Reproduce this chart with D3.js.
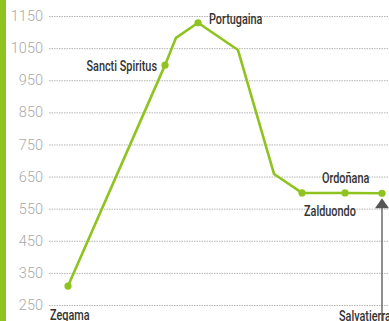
<!DOCTYPE html>
<html>
<head>
<meta charset="utf-8">
<script src="https://cdn.jsdelivr.net/npm/d3@7/dist/d3.min.js"></script>
<style>
  html, body { margin: 0; padding: 0; background: #fff; }
  svg { display: block; }
</style>
</head>
<body>
<svg id="chart" width="389" height="321"></svg>
<script>
// Route profile: distance (km) and altitude (m)
const distances = [0, 9.7, 10.8, 13.0, 17.0, 20.6, 23.4, 27.7, 31.4];
const altitudes = [309, 997, 1082, 1129, 1044, 658, 599, 599, 598];
// Named stops along the route (index into the arrays above)
const stopNames = ["Zegama", "Sancti Spiritus", "Portugaina", "Zalduondo", "Ordoñana", "Salvatierra"];
const stopIndex = [0, 1, 3, 6, 7, 8];
const yTicks = [250, 350, 450, 550, 650, 750, 850, 950, 1050, 1150];

const green = "#8fc31f";
const svg = d3.select("#chart");

const x = d3.scaleLinear().domain([0, 31.4]).range([68, 382]);
const y = d3.scaleLinear().domain([250, 1150]).range([305, 16]);

// left accent bar
svg.append("rect").attr("x", 0).attr("y", 0).attr("width", 6).attr("height", 321).attr("fill", green);

// gridlines + tick labels
const yAxis = d3.axisLeft(y).tickValues(yTicks).tickFormat(d3.format("d"))
  .tickSize(-340).tickPadding(6);
const gAxis = svg.append("g").attr("transform", "translate(49,0)").call(yAxis);
gAxis.select(".domain").remove();
gAxis.selectAll(".tick line")
  .attr("stroke", "#b5b5b5").attr("stroke-width", 1).attr("stroke-dasharray", "1.5,1");
gAxis.selectAll(".tick text")
  .attr("fill", "#aaa").attr("font-family", "Roboto").attr("font-weight", 300)
  .attr("font-size", 14.5).attr("x", -6);

// profile line
const line = d3.line().x((d, i) => x(distances[i])).y(d => y(d));
svg.append("path").datum(altitudes)
  .attr("d", line).attr("fill", "none").attr("stroke", green)
  .attr("stroke-width", 2.6).attr("stroke-linejoin", "round");

// stop markers
svg.selectAll("circle.stop").data(stopIndex).enter().append("circle")
  .attr("class", "stop")
  .attr("cx", i => x(distances[i])).attr("cy", i => y(altitudes[i]))
  .attr("r", 3.6).attr("fill", green);

// destination arrow
const last = stopIndex[stopIndex.length - 1];
const ax = x(distances[last]);
const ay = y(altitudes[last]) + 5;
svg.append("line").attr("x1", ax).attr("x2", ax).attr("y1", ay + 8).attr("y2", 321)
  .attr("stroke", "#555").attr("stroke-width", 1.3);
svg.append("path")
  .attr("d", `M${ax},${ay} L${ax + 7},${ay + 10} L${ax - 7},${ay + 10} Z`)
  .attr("fill", "#555");

// stop labels: [dx, dy, anchor]
const labelPos = [
  [-18, 34, "start"],  // Zegama (below axis)
  [-8, 6, "end"],      // Sancti Spiritus
  [11, 1, "start"],    // Portugaina
  [2, 23, "start"],    // Zalduondo
  [-23, -10, "start"], // Ordoñana
  [-43, 128, "start"]  // Salvatierra
];
svg.selectAll("text.stop").data(stopIndex).enter().append("text")
  .attr("class", "stop")
  .attr("transform", (idx, k) => {
    const px = x(distances[idx]) + labelPos[k][0];
    const py = y(altitudes[idx]) + labelPos[k][1];
    return `translate(${px},${py}) scale(0.75,1)`;
  })
  .attr("text-anchor", (idx, k) => labelPos[k][2])
  .attr("font-family", "Roboto").attr("font-weight", 500).attr("font-size", 14.5)
  .attr("fill", "#333")
  .text((idx, k) => stopNames[k]);
</script>
</body>
</html>
